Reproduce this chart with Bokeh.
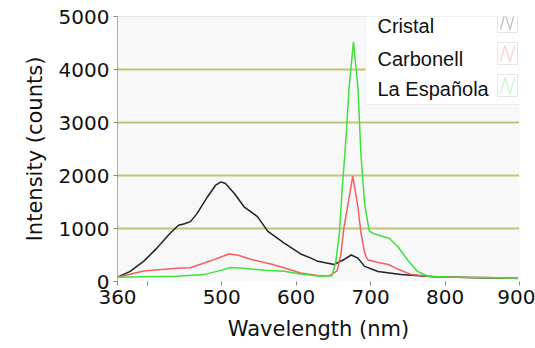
from bokeh.plotting import figure
from bokeh.models import FixedTicker, Span, BoxAnnotation, Label, PolyAnnotation
from bokeh.embed import file_html
from bokeh.resources import INLINE

# ---- data ----
cristal_nm = [360, 377, 395, 413, 431, 442, 450, 458, 467, 481, 492, 499, 505, 517, 530, 548, 562, 584,
              606, 620, 629, 651, 665, 674, 683, 692, 710, 741, 785, 830, 898]
cristal_ct = [80, 190, 380, 630, 915, 1060, 1090, 1130, 1285, 1600, 1820, 1880, 1850, 1660, 1410, 1225, 945, 725,
              520, 440, 380, 320, 420, 500, 440, 285, 190, 130, 90, 75, 60]

carbonell_nm = [360, 395, 440, 458, 485, 510, 521, 539, 566, 588, 606, 615, 629, 645, 655, 660, 664, 669, 676,
                683, 687, 692, 696, 710, 724, 737, 755, 785, 875, 898]
carbonell_ct = [80, 200, 250, 260, 390, 520, 500, 420, 330, 240, 160, 140, 115, 110, 200, 500, 1000, 1410, 1990,
                1410, 920, 540, 410, 360, 320, 230, 130, 90, 70, 55]

espanola_nm = [360, 395, 440, 476, 499, 512, 530, 557, 584, 606, 633, 648, 653, 658, 662, 667, 671, 677, 683,
               687, 692, 698, 703, 714, 725, 737, 750, 763, 777, 806, 898]
espanola_ct = [80, 90, 100, 130, 210, 265, 250, 210, 195, 140, 100, 110, 350, 900, 1770, 2710, 3650, 4520, 3650,
               2400, 1460, 960, 910, 860, 815, 650, 400, 190, 100, 85, 65]

series_names = ["Cristal", "Carbonell", "La Española"]
series_colors = ["#222222", "#f06060", "#3ee03e"]

x_ticks = [360, 400, 500, 600, 700, 800, 900]
y_ticks = [0, 1000, 2000, 3000, 4000, 5000]

# ---- figure ----
p = figure(width=535, height=348, output_backend="svg", toolbar_location=None,
           x_range=(360, 900), y_range=(0, 5000),
           min_border_left=117, min_border_right=16, min_border_top=16, min_border_bottom=67)
p.background_fill_color = "#f8f8f8"
p.border_fill_color = "white"
p.outline_line_color = None

p.xgrid.grid_line_color = None
p.ygrid.grid_line_color = "#c2c27a"
p.ygrid.grid_line_width = 2

p.xaxis.ticker = FixedTicker(ticks=x_ticks)
p.xaxis.major_label_overrides = {400: ""}
p.yaxis.ticker = FixedTicker(ticks=y_ticks)

for ax in (p.xaxis[0], p.yaxis[0]):
    ax.major_label_text_font = "DejaVu Sans"
    ax.major_label_text_font_size = "20px"
    ax.major_label_text_color = "#111111"
    ax.axis_label_text_font = "DejaVu Sans"
    ax.axis_label_text_font_size = "21px"
    ax.axis_label_text_font_style = "normal"
    ax.axis_label_text_color = "#111111"
    ax.major_tick_out = 4
    ax.major_tick_in = 0
    ax.minor_tick_out = 0
    ax.minor_tick_in = 0
    ax.major_tick_line_color = "#888888"
    ax.major_label_standoff = 4

p.xaxis.axis_label_standoff = 10
p.yaxis.axis_label_standoff = 9
p.xaxis.axis_label = "Wavelength (nm)"
p.yaxis.axis_label = "Intensity (counts)"
p.xaxis.axis_line_color = None
p.yaxis.axis_line_color = "#aaaaaa"

p.add_layout(Span(location=5000, dimension="width", line_color="#cccccc", line_width=1))

# ---- curves ----
p.line(cristal_nm, cristal_ct, line_color=series_colors[0], line_width=1.5)
p.line(carbonell_nm, carbonell_ct, line_color=series_colors[1], line_width=1.5)
p.line(espanola_nm, espanola_ct, line_color=series_colors[2], line_width=1.5)

# ---- legend (label left, icon right) ----
p.add_layout(BoxAnnotation(left=365, right=533, top=2, bottom=104,
                           left_units="canvas", right_units="canvas",
                           top_units="canvas", bottom_units="canvas",
                           fill_color="white", fill_alpha=1.0,
                           line_color="#cccccc", line_width=1))
text_y = [25, 58, 88]
icon_y = [21, 53, 85]
for name, color, ty, iy in zip(series_names, series_colors, text_y, icon_y):
    p.add_layout(Label(x=377, y=ty, x_units="canvas", y_units="canvas", text=name,
                       text_font="Liberation Sans", text_font_size="20px",
                       text_color="#111111", text_baseline="middle", text_align="left"))
    p.add_layout(BoxAnnotation(left=497, right=517, top=iy - 11, bottom=iy + 11,
                               left_units="canvas", right_units="canvas",
                               top_units="canvas", bottom_units="canvas",
                               fill_color="white", fill_alpha=1.0,
                               line_color="#a8a8a8", line_width=1))
    zx = [500, 504.5, 509.5, 514]
    zy = [iy + 8, iy - 8, iy + 8, iy - 8]
    p.add_layout(PolyAnnotation(xs=zx + zx[-2:0:-1], ys=zy + zy[-2:0:-1],
                                xs_units="canvas", ys_units="canvas",
                                fill_alpha=0, line_color=color, line_width=1.2))

open("out.html", "w").write(file_html(p, INLINE))
